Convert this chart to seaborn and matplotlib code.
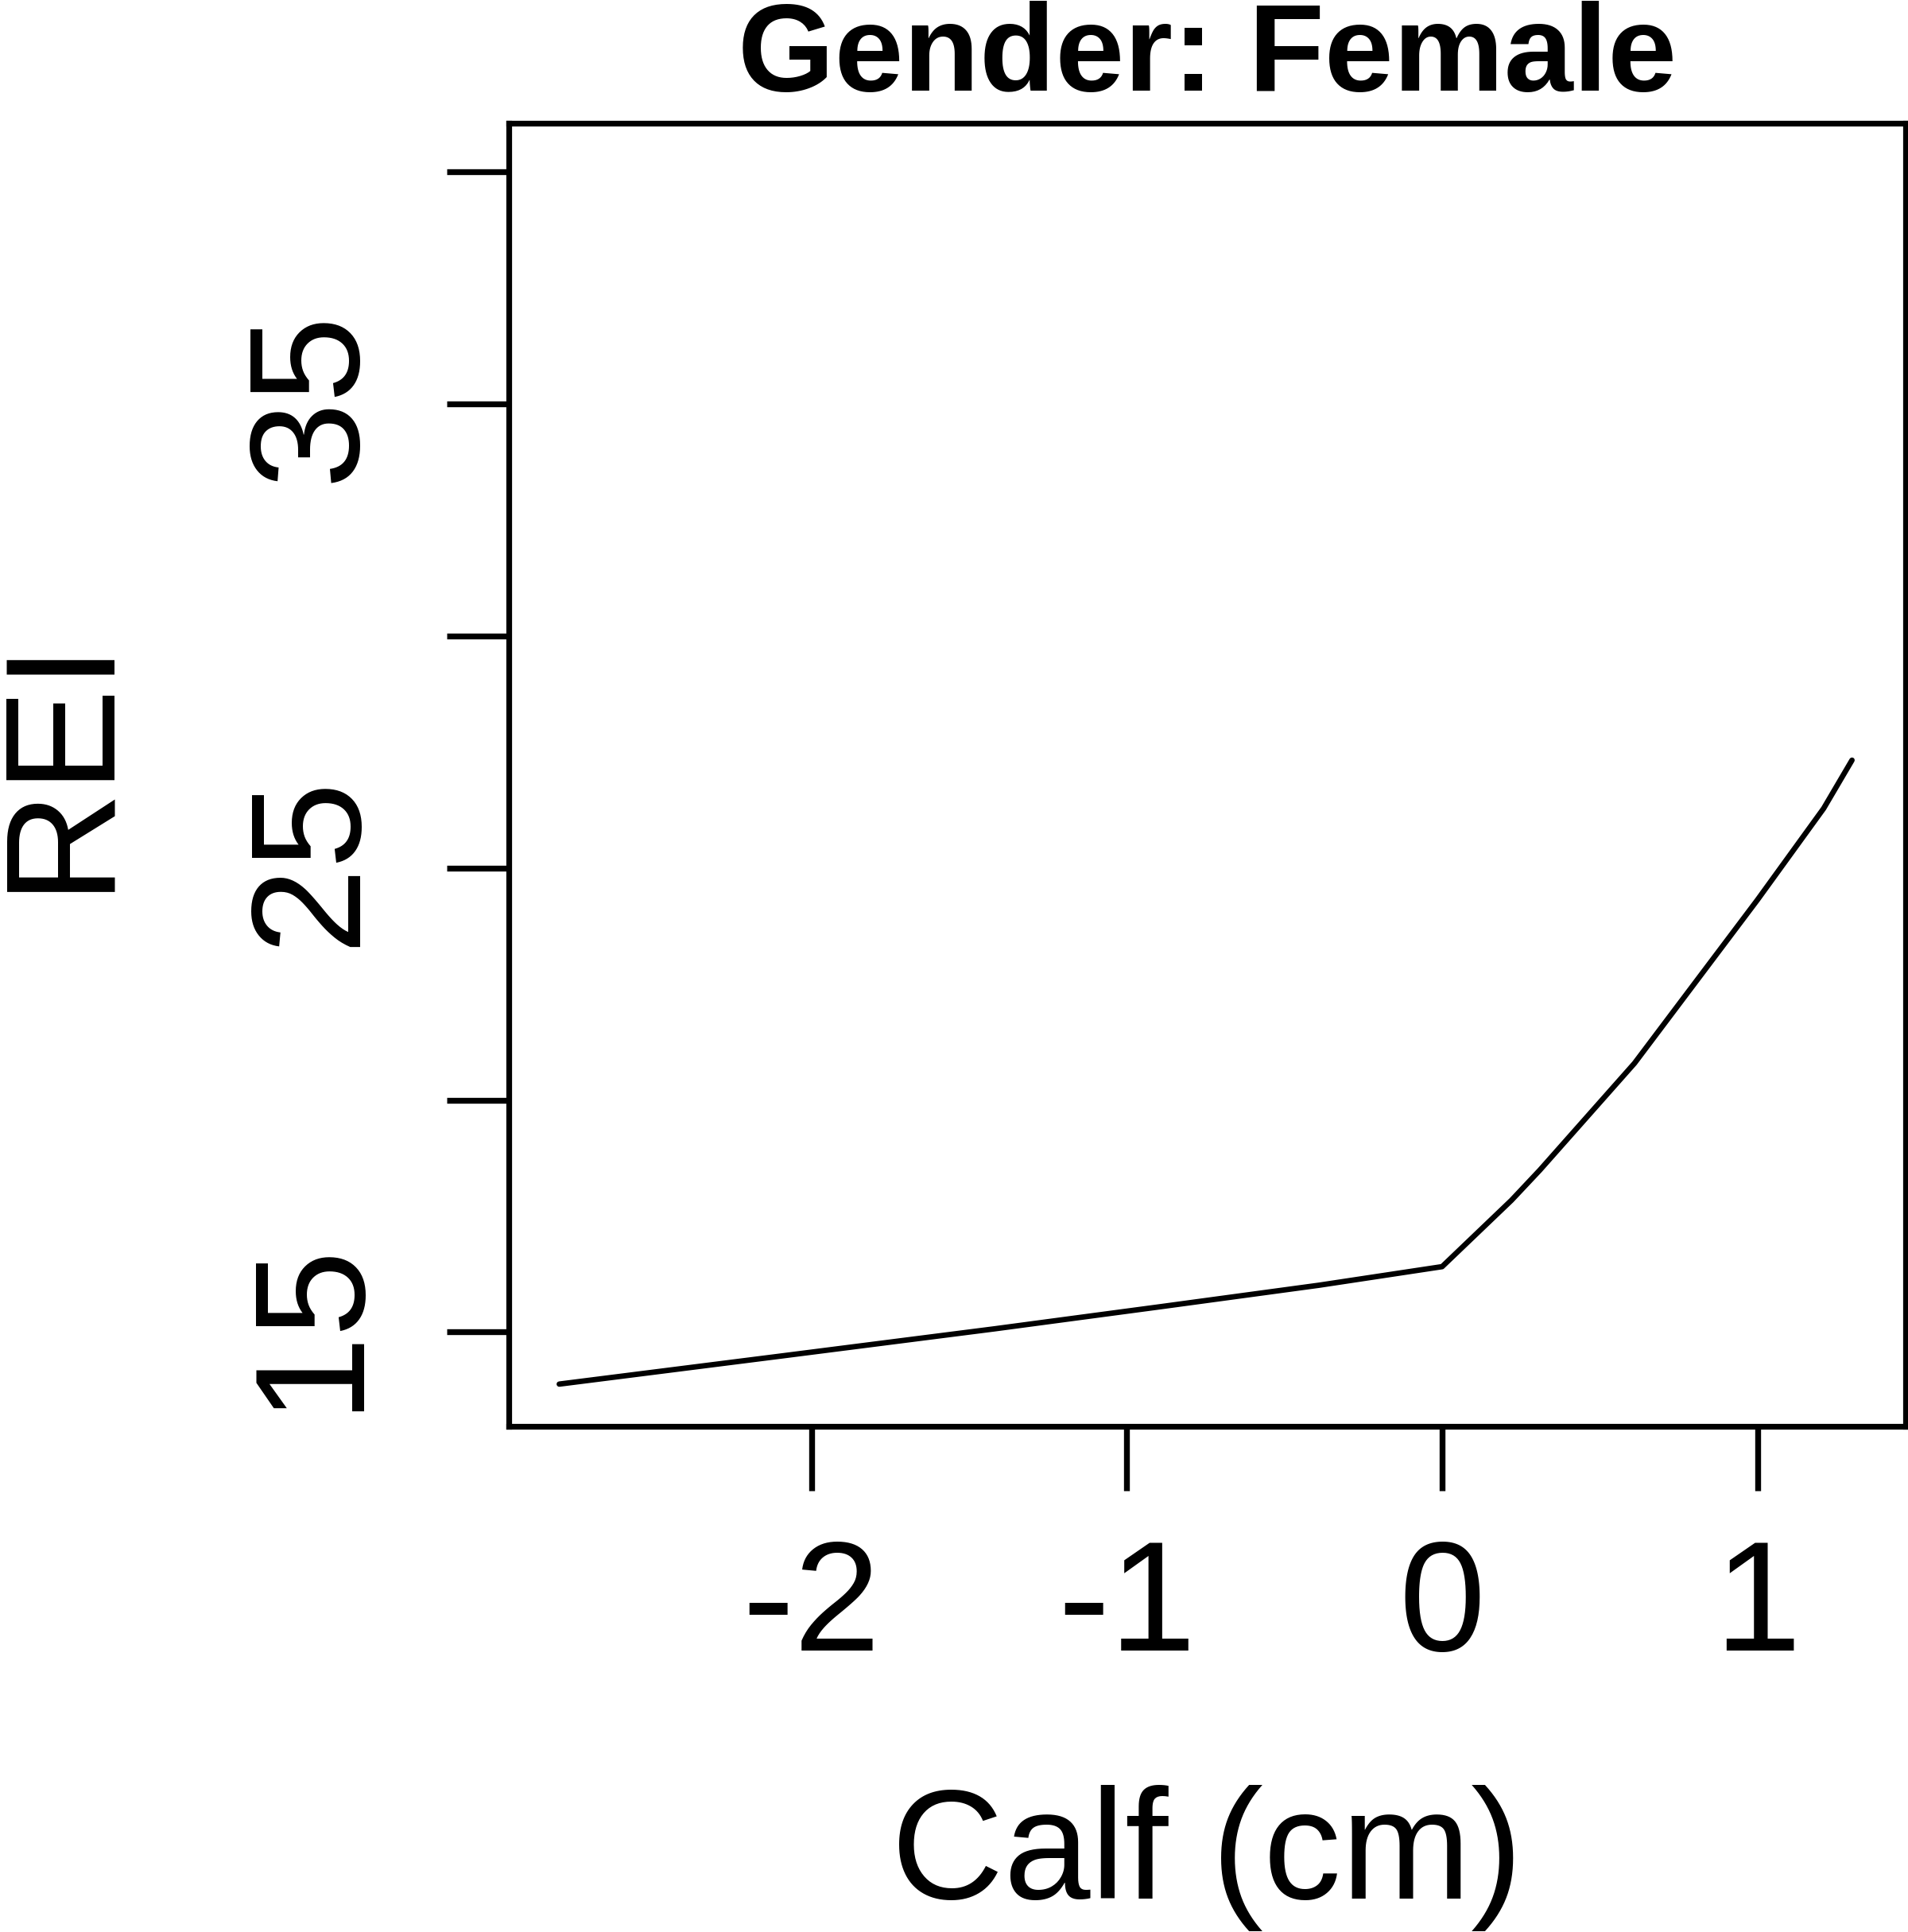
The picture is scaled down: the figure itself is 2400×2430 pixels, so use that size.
import numpy as np
import pandas as pd
import matplotlib
matplotlib.use("Agg")
import matplotlib.pyplot as plt
import matplotlib.transforms as mtransforms
import seaborn as sns

# values
calf = [-2.80, -2.09, -1.42, -0.89, -0.39, 0.0, 0.22, 0.31, 0.61, 1.0, 1.21, 1.30]
rei = [13.88, 14.49, 15.07, 15.55, 16.01, 16.41, 17.84, 18.49, 20.79, 24.31, 26.28, 27.32]

x_ticks = [-2, -1, 0, 1]
x_labels = ["-2", "-1", "0", "1"]
y_ticks = [15, 20, 25, 30, 35, 40]
y_labels = ["15", "", "25", "", "35", ""]

sns.set_style("ticks")
plt.rcParams['font.family'] = ['Liberation Sans', 'DejaVu Sans']
plt.rcParams['text.color'] = 'black'
plt.rcParams['axes.labelcolor'] = 'black'
plt.rcParams['xtick.color'] = 'black'
plt.rcParams['ytick.color'] = 'black'
plt.rcParams['axes.edgecolor'] = 'black'

df = pd.DataFrame({"Calf": calf, "REI": rei})

fig = plt.figure(figsize=(24, 24.3), dpi=100)
ax = fig.add_axes([640/2400, 1-1794/2430, 1757/2400, 1639/2430])

sns.lineplot(data=df, x="Calf", y="REI", color="black", linewidth=4.9, ax=ax)

ax.set_xlim(-2.960, 1.470)
ax.set_ylim(12.97, 41.04)

ax.set_xticks(x_ticks)
ax.set_xticklabels(x_labels, fontsize=141)
ax.set_yticks(y_ticks)
ax.set_yticklabels(y_labels, fontsize=141, rotation=90, va="center")
ax.tick_params(axis="x", length=58, width=5.3, pad=42, color="black", labelcolor="black")
ax.tick_params(axis="y", length=56, width=5.3, pad=55.5, color="black", labelcolor="black")

# nudge rotated y labels up so they sit centred on their ticks
shift = mtransforms.ScaledTranslation(0, 7/72, fig.dpi_scale_trans)
for lbl in ax.get_yticklabels():
    lbl.set_transform(lbl.get_transform() + shift)

for s in ax.spines.values():
    s.set_visible(True)
    s.set_linewidth(5.2)
    s.set_color("black")

ax.set_xlabel("Calf (cm)", fontsize=141, va="baseline", color="black")
ax.xaxis.set_label_coords(0.5, -(2388-1794)/1639)
ax.set_ylabel("REI", fontsize=141, va="baseline", color="black")
ax.yaxis.set_label_coords((128-640)/1757, 0.5 + 17/1639)

ax.set_title("Gender: Female", fontsize=112.5, fontweight="bold", pad=29.5, color="black")

fig.savefig("out.png", dpi=100, facecolor="white")
